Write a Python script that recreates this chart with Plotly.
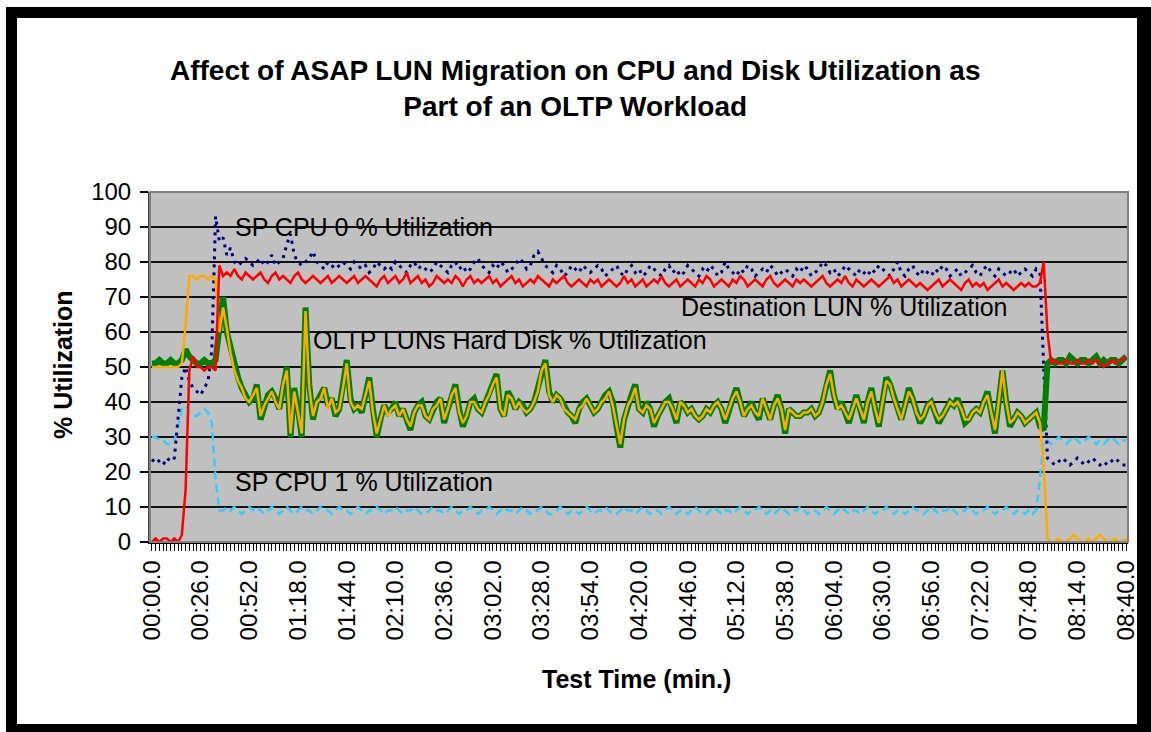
import plotly.graph_objects as go

# ---------------- data ----------------
# sample every 2 seconds, 00:00.0 .. 08:40.0
time_labels = ["%02d:%02d.0" % (s // 60, s % 60) for s in range(0, 521, 2)]
label_every = 13

sp_cpu0 = [
    23, 24, 23, 22, 24, 23, 24, 36, 47, 50, 46, 44, 43,
    42, 44, 46, 55, 93, 86, 87, 82, 84, 80, 79, 80, 81,
    80, 79, 80, 81, 79, 80, 82, 79, 80, 81, 85, 88, 82,
    80, 79, 80, 81, 83, 80, 79, 78, 80, 79, 78, 79, 80,
    79, 78, 80, 79, 78, 79, 77, 78, 80, 79, 78, 79, 78,
    80, 79, 78, 77, 79, 80, 78, 79, 78, 77, 78, 80, 79,
    78, 77, 79, 80, 78, 79, 77, 78, 80, 81, 79, 78, 77,
    79, 78, 80, 79, 77, 78, 79, 81, 80, 78, 79, 82, 83,
    81, 79, 78, 77, 79, 78, 76, 77, 79, 78, 77, 79, 78,
    77, 78, 79, 78, 76, 77, 78, 79, 77, 76, 78, 79, 77,
    78, 76, 77, 79, 78, 77, 76, 78, 79, 77, 78, 76, 77,
    79, 78, 77, 76, 78, 77, 79, 78, 76, 77, 80, 78, 77,
    76, 78, 77, 79, 78, 76, 77, 78, 77, 79, 78, 76, 77,
    78, 77, 76, 78, 77, 79, 78, 76, 77, 78, 80, 79, 77,
    78, 76, 77, 79, 78, 77, 76, 78, 77, 76, 78, 77, 79,
    78, 77, 76, 78, 80, 77, 76, 78, 79, 77, 76, 78, 77,
    76, 78, 77, 79, 78, 76, 77, 78, 76, 77, 78, 79, 77,
    76, 78, 79, 77, 76, 78, 77, 76, 77, 78, 76, 77, 78,
    77, 76, 78, 77, 50, 24, 23, 22, 23, 24, 23, 22, 23,
    24, 23, 22, 23, 24, 23, 22, 23, 22, 23, 24, 23, 22,
    22,
]

sp_cpu1 = [
    30, 30, 29, 29, 28, 28, 29, 33, 38, 39, 37, 36, 36,
    37, 38, 37, 34, 18, 9, 9, 10, 9, 10, 9, 8, 9,
    10, 9, 10, 9, 8, 9, 10, 9, 8, 9, 10, 9, 8,
    9, 10, 9, 9, 8, 9, 10, 9, 9, 8, 9, 10, 9,
    9, 8, 9, 10, 9, 8, 9, 9, 10, 9, 8, 9, 9,
    10, 9, 8, 9, 9, 10, 9, 8, 8, 9, 10, 9, 9,
    8, 9, 10, 9, 8, 9, 9, 10, 9, 8, 9, 9, 10,
    9, 8, 9, 10, 9, 9, 8, 9, 10, 9, 8, 9, 9,
    10, 9, 8, 8, 9, 10, 9, 8, 9, 9, 8, 9, 10,
    9, 8, 9, 9, 10, 9, 8, 8, 9, 10, 9, 9, 8,
    9, 10, 9, 8, 9, 9, 8, 9, 10, 9, 8, 9, 9,
    8, 9, 10, 9, 8, 8, 9, 10, 9, 8, 9, 9, 8,
    9, 10, 9, 8, 9, 9, 10, 9, 8, 9, 8, 9, 10,
    9, 8, 9, 9, 10, 9, 8, 9, 9, 8, 9, 10, 9,
    8, 9, 10, 9, 8, 9, 9, 8, 9, 10, 9, 8, 9,
    9, 10, 9, 8, 9, 9, 8, 9, 10, 9, 9, 8, 9,
    10, 9, 8, 9, 9, 10, 9, 8, 9, 9, 10, 9, 8,
    9, 9, 10, 9, 8, 9, 9, 10, 9, 8, 9, 9, 8,
    9, 8, 9, 18, 29, 29, 28, 29, 30, 29, 28, 29, 30,
    29, 28, 29, 30, 29, 28, 29, 28, 29, 30, 29, 28, 29,
    29,
]

oltp_luns_disk = [
    51, 51, 52, 51, 51, 52, 51, 51, 52, 55, 53, 52, 51,
    51, 52, 51, 51, 52, 62, 70, 60, 55, 50, 47, 44, 42,
    40, 41, 45, 35, 39, 42, 43, 41, 38, 44, 50, 30, 44,
    38, 30, 67, 45, 35, 40, 42, 44, 39, 41, 36, 38, 45,
    52, 41, 38, 39, 37, 42, 47, 38, 30, 35, 39, 37, 38,
    40, 36, 38, 35, 32, 37, 39, 40, 36, 35, 38, 40, 41,
    34, 38, 42, 45, 38, 33, 36, 40, 41, 38, 37, 40, 43,
    45, 48, 38, 36, 43, 41, 38, 40, 39, 37, 38, 40, 44,
    49, 52, 43, 40, 42, 41, 39, 37, 36, 34, 38, 40, 41,
    39, 37, 38, 40, 42, 43, 40, 33, 27, 35, 39, 42, 45,
    38, 37, 40, 38, 33, 36, 38, 40, 41, 38, 34, 40, 39,
    37, 38, 36, 35, 36, 38, 37, 39, 40, 38, 34, 38, 41,
    44, 40, 36, 38, 40, 37, 35, 41, 38, 35, 39, 42, 38,
    31, 38, 37, 36, 36, 37, 37, 38, 36, 37, 40, 45, 49,
    42, 38, 40, 37, 34, 38, 42, 38, 34, 40, 44, 38, 33,
    40, 47, 45, 42, 38, 35, 39, 44, 41, 37, 34, 36, 39,
    40, 37, 34, 36, 38, 40, 39, 41, 38, 34, 35, 37, 38,
    37, 40, 43, 37, 31, 40, 49, 40, 33, 35, 37, 36, 34,
    35, 36, 37, 33, 32, 51, 52, 51, 52, 52, 51, 53, 52,
    51, 52, 52, 51, 52, 53, 51, 52, 51, 52, 52, 51, 52,
    53,
]

source_lun = [
    50, 50, 50, 50, 50, 50, 50, 50, 51, 62, 76, 76, 75,
    76, 76, 75, 76, 75, 60, 67, 61, 54, 49, 46, 44, 41,
    40, 42, 44, 36, 39, 41, 43, 40, 38, 45, 49, 31, 43,
    37, 31, 66, 44, 36, 40, 41, 44, 38, 41, 37, 38, 44,
    51, 40, 38, 39, 38, 42, 46, 37, 31, 35, 39, 36, 38,
    39, 36, 38, 35, 33, 37, 39, 39, 36, 35, 38, 39, 41,
    35, 38, 42, 44, 37, 34, 36, 40, 40, 38, 37, 40, 42,
    45, 47, 38, 36, 42, 41, 38, 40, 38, 37, 38, 40, 43,
    49, 51, 42, 40, 42, 41, 38, 37, 36, 35, 38, 39, 41,
    39, 37, 38, 40, 41, 43, 39, 34, 28, 35, 39, 41, 44,
    38, 37, 39, 38, 34, 36, 38, 40, 40, 38, 35, 40, 39,
    37, 38, 36, 35, 36, 38, 37, 39, 40, 38, 35, 38, 41,
    43, 40, 36, 38, 39, 37, 36, 41, 38, 35, 39, 41, 38,
    32, 38, 37, 36, 36, 37, 37, 38, 36, 37, 40, 45, 48,
    42, 38, 39, 37, 35, 38, 41, 38, 35, 40, 43, 38, 34,
    40, 46, 45, 41, 38, 35, 39, 43, 41, 37, 35, 36, 39,
    40, 37, 35, 36, 38, 40, 39, 40, 38, 35, 35, 37, 38,
    37, 40, 42, 37, 32, 40, 49, 40, 34, 35, 37, 36, 34,
    35, 36, 37, 34, 22, 1, 0, 0, 1, 0, 0, 1, 2,
    1, 0, 0, 1, 0, 1, 2, 1, 0, 0, 1, 0, 0,
    1,
]

destination_lun = [
    0, 1, 0, 1, 1, 0, 1, 0, 2, 15, 49, 53, 50,
    50, 49, 50, 50, 49, 79, 76, 77, 76, 78, 76, 75, 77,
    76, 75, 76, 77, 75, 74, 76, 77, 75, 76, 75, 74, 76,
    77, 75, 74, 75, 76, 75, 74, 75, 76, 74, 75, 76, 75,
    74, 75, 76, 74, 75, 76, 75, 74, 73, 75, 76, 74, 75,
    76, 74, 75, 77, 74, 75, 76, 74, 75, 73, 74, 76, 75,
    74, 75, 74, 76, 75, 73, 75, 76, 74, 75, 74, 75, 76,
    74, 75, 73, 74, 75, 76, 74, 75, 73, 74, 75, 74, 76,
    75, 74, 73, 75, 74, 75, 76, 74, 73, 74, 75, 74, 73,
    75, 74, 75, 73, 74, 75, 74, 73, 74, 76, 74, 75, 73,
    74, 75, 73, 74, 75, 74, 76, 74, 73, 74, 75, 73, 74,
    75, 74, 73, 75, 74, 76, 75, 73, 74, 75, 74, 73, 75,
    74, 76, 75, 73, 74, 75, 74, 73, 75, 76, 74, 73, 74,
    75, 74, 73, 75, 74, 75, 74, 73, 74, 75, 76, 74, 73,
    74, 75, 74, 76, 74, 73, 75, 74, 73, 74, 75, 74, 73,
    74, 75, 76, 74, 75, 73, 74, 75, 74, 73, 74, 73, 72,
    73, 74, 75, 73, 74, 75, 74, 73, 72, 74, 75, 73, 74,
    73, 74, 72, 73, 74, 75, 73, 74, 73, 72, 73, 74, 73,
    74, 73, 73, 74, 80, 60, 51, 52, 51, 51, 52, 51, 51,
    52, 51, 51, 52, 51, 52, 51, 50, 51, 52, 51, 52, 52,
    53,
]

series_labels = {
    "cpu0": "SP CPU 0 % Utilization",
    "cpu1": "SP CPU 1 % Utilization",
    "dest": "Destination LUN % Utilization",
    "oltp": "OLTP LUNs Hard Disk % Utilization",
}
y_ticks = [0, 10, 20, 30, 40, 50, 60, 70, 80, 90, 100]

# ---------------- figure ----------------
W, H = 1151, 732
L, R, T, B = 150, 1128, 192, 542  # plot area in pixels


def px(x):
    return (x - L) / (R - L)


def py(y):
    return (B - y) / (B - T)


FONT = "Arial, 'Liberation Sans', Helvetica, sans-serif"

fig = go.Figure()
fig.add_trace(go.Scatter(x=time_labels, y=sp_cpu1, mode="lines",
                         line=dict(color="#33CCFF", width=2.5, dash="8px,5px"),
                         name=series_labels["cpu1"]))
fig.add_trace(go.Scatter(x=time_labels, y=sp_cpu0, mode="lines",
                         line=dict(color="#000080", width=3, dash="3px,5px"),
                         name=series_labels["cpu0"]))
fig.add_trace(go.Scatter(x=time_labels, y=oltp_luns_disk, mode="lines",
                         line=dict(color="#008000", width=6),
                         name=series_labels["oltp"]))
fig.add_trace(go.Scatter(x=time_labels, y=source_lun, mode="lines",
                         line=dict(color="#FFAA00", width=2.5),
                         name="Source LUN % Utilization"))
fig.add_trace(go.Scatter(x=time_labels, y=destination_lun, mode="lines",
                         line=dict(color="#FF0000", width=2.5),
                         name=series_labels["dest"]))

tick_text = [lab if i % label_every == 0 else "" for i, lab in enumerate(time_labels)]

fig.update_layout(
    width=W, height=H,
    margin=dict(l=L, r=W - R, t=T, b=H - B, pad=0),
    paper_bgcolor="white",
    plot_bgcolor="#C0C0C0",
    showlegend=False,
    font=dict(family=FONT, color="black"),
    xaxis=dict(
        type="category",
        range=[-0.5, len(time_labels) - 0.5],
        tickmode="array", tickvals=time_labels, ticktext=tick_text,
        tickangle=-90, tickfont=dict(size=24, family=FONT, color="black"),
        ticks="outside", ticklen=7, tickwidth=1, tickcolor="black",
        showgrid=False, zeroline=False,
        showline=True, linecolor="black", linewidth=1.5,
    ),
    yaxis=dict(
        range=[0, 100], tickvals=y_ticks,
        tickfont=dict(size=24, family=FONT, color="black"),
        ticks="outside", ticklen=8, tickwidth=1.5, tickcolor="black",
        ticklabelstandoff=4,
        showgrid=True, gridcolor="#111111", gridwidth=1.5,
        zeroline=False,
        showline=True, linecolor="#404040", linewidth=2,
    ),
)

# plot-area border
fig.add_shape(type="rect", xref="paper", yref="paper", x0=0, x1=1, y0=0, y1=1,
              line=dict(color="#808080", width=2), layer="above")

# black outer frame
frame = [
    (6, 1151, 7, 18),
    (6, 17, 7, 732),
    (1137, 1151, 7, 732),
    (6, 1151, 724, 732),
]
for x0, x1, y0, y1 in frame:
    fig.add_shape(type="rect", xref="paper", yref="paper",
                  x0=px(x0), x1=px(x1), y0=py(y1), y1=py(y0),
                  line=dict(width=0), fillcolor="black", layer="above")

# title
fig.add_annotation(xref="paper", yref="paper", x=px(575), y=py(88),
                   xanchor="center", yanchor="middle", showarrow=False,
                   text="Affect of ASAP LUN Migration on CPU and Disk Utilization as<br>Part of an OLTP Workload",
                   font=dict(size=28, family=FONT, color="black", weight="bold"))
# axis titles
fig.add_annotation(xref="paper", yref="paper", x=px(636), y=py(679),
                   xanchor="center", yanchor="middle", showarrow=False,
                   text="Test Time (min.)",
                   font=dict(size=25, family=FONT, color="black", weight="bold"))
fig.add_annotation(xref="paper", yref="paper", x=px(63), y=py(365),
                   xanchor="center", yanchor="middle", showarrow=False, textangle=-90,
                   text="% Utilization",
                   font=dict(size=25, family=FONT, color="black", weight="bold"))

# series labels inside the plot
for key, (x, y) in {"cpu0": (233, 227), "dest": (679, 307),
                    "oltp": (311, 340), "cpu1": (233, 482)}.items():
    fig.add_annotation(xref="paper", yref="paper", x=px(x), y=py(y),
                       xanchor="left", yanchor="middle", showarrow=False,
                       text=series_labels[key],
                       font=dict(size=25, family=FONT, color="black"))

# remove the browser's default 8px page margin so the figure sits at (0, 0)
fig.write_html("out.html",
               config={"displayModeBar": False},
               post_script="document.body.style.margin='0';document.body.style.overflow='hidden';")
